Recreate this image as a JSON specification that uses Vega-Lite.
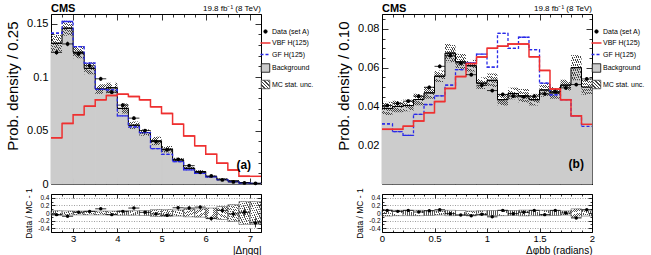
{
  "$schema": "https://vega.github.io/schema/vega-lite/v6.json",
  "background": "white",
  "padding": {"left": 5, "top": 2, "right": 0, "bottom": 0},
  "config": {
    "font": "Liberation Sans",
    "view": {"stroke": "black", "strokeWidth": 1},
    "axis": {"domain": false, "grid": false, "tickColor": "black", "tickWidth": 0.8, "labelColor": "black", "titleColor": "black", "labelFont": "Liberation Sans", "titleFont": "Liberation Sans", "titleFontWeight": "normal", "labelOverlap": false, "labelFlush": false}
  },
  "datasets": {
    "left": [
      {"lo": 2.5, "hi": 2.75, "mid": 2.625, "bkg": 0.1316, "mc_lo": 0.1238, "mc_hi": 0.1394, "vbf": 0.0432, "gf": 0.141, "data": 0.1231, "derr": 0.0022, "ratio": -0.043, "rerr": 0.02, "rb_lo": -0.06, "rb_hi": 0.06},
      {"lo": 2.75, "hi": 3.0, "mid": 2.875, "bkg": 0.1457, "mc_lo": 0.1387, "mc_hi": 0.1527, "vbf": 0.0567, "gf": 0.152, "data": 0.131, "derr": 0.0022, "ratio": -0.086, "rerr": 0.02, "rb_lo": -0.055, "rb_hi": 0.055},
      {"lo": 3.0, "hi": 3.25, "mid": 3.125, "bkg": 0.1232, "mc_lo": 0.1176, "mc_hi": 0.1288, "vbf": 0.0648, "gf": 0.1285, "data": 0.1219, "derr": 0.0021, "ratio": 0.017, "rerr": 0.02, "rb_lo": -0.05, "rb_hi": 0.05},
      {"lo": 3.25, "hi": 3.5, "mid": 3.375, "bkg": 0.1082, "mc_lo": 0.1026, "mc_hi": 0.1138, "vbf": 0.0728, "gf": 0.113, "data": 0.1106, "derr": 0.002, "ratio": 0.043, "rerr": 0.02, "rb_lo": -0.05, "rb_hi": 0.05},
      {"lo": 3.5, "hi": 3.75, "mid": 3.625, "bkg": 0.0888, "mc_lo": 0.0843, "mc_hi": 0.0933, "vbf": 0.0787, "gf": 0.0885, "data": 0.0984, "derr": 0.0019, "ratio": 0.11, "rerr": 0.025, "rb_lo": -0.05, "rb_hi": 0.05},
      {"lo": 3.75, "hi": 4.0, "mid": 3.875, "bkg": 0.09, "mc_lo": 0.0853, "mc_hi": 0.0947, "vbf": 0.0828, "gf": 0.088, "data": 0.0859, "derr": 0.0018, "ratio": -0.043, "rerr": 0.025, "rb_lo": -0.05, "rb_hi": 0.05},
      {"lo": 4.0, "hi": 4.25, "mid": 4.125, "bkg": 0.0707, "mc_lo": 0.066, "mc_hi": 0.0754, "vbf": 0.084, "gf": 0.0638, "data": 0.0738, "derr": 0.0017, "ratio": 0.043, "rerr": 0.025, "rb_lo": -0.06, "rb_hi": 0.06},
      {"lo": 4.25, "hi": 4.5, "mid": 4.375, "bkg": 0.055, "mc_lo": 0.0515, "mc_hi": 0.0585, "vbf": 0.0818, "gf": 0.0535, "data": 0.0616, "derr": 0.0016, "ratio": 0.13, "rerr": 0.03, "rb_lo": -0.06, "rb_hi": 0.06},
      {"lo": 4.5, "hi": 4.75, "mid": 4.625, "bkg": 0.0481, "mc_lo": 0.0451, "mc_hi": 0.0511, "vbf": 0.0787, "gf": 0.048, "data": 0.05, "derr": 0.0015, "ratio": 0.017, "rerr": 0.03, "rb_lo": -0.065, "rb_hi": 0.065},
      {"lo": 4.75, "hi": 5.0, "mid": 4.875, "bkg": 0.0403, "mc_lo": 0.0363, "mc_hi": 0.0443, "vbf": 0.0722, "gf": 0.033, "data": 0.0397, "derr": 0.0013, "ratio": -0.026, "rerr": 0.035, "rb_lo": -0.09, "rb_hi": 0.09},
      {"lo": 5.0, "hi": 5.25, "mid": 5.125, "bkg": 0.0325, "mc_lo": 0.0295, "mc_hi": 0.0355, "vbf": 0.066, "gf": 0.0278, "data": 0.0319, "derr": 0.0012, "ratio": -0.06, "rerr": 0.04, "rb_lo": -0.09, "rb_hi": 0.09},
      {"lo": 5.25, "hi": 5.5, "mid": 5.375, "bkg": 0.0225, "mc_lo": 0.0205, "mc_hi": 0.0245, "vbf": 0.056, "gf": 0.0209, "data": 0.0231, "derr": 0.001, "ratio": 0.138, "rerr": 0.045, "rb_lo": -0.08, "rb_hi": 0.08},
      {"lo": 5.5, "hi": 5.75, "mid": 5.625, "bkg": 0.0147, "mc_lo": 0.0132, "mc_hi": 0.0162, "vbf": 0.045, "gf": 0.0132, "data": 0.0172, "derr": 0.0009, "ratio": 0.13, "rerr": 0.05, "rb_lo": -0.1, "rb_hi": 0.1},
      {"lo": 5.75, "hi": 6.0, "mid": 5.875, "bkg": 0.0116, "mc_lo": 0.0103, "mc_hi": 0.0129, "vbf": 0.0358, "gf": 0.01, "data": 0.0109, "derr": 0.0008, "ratio": 0.155, "rerr": 0.055, "rb_lo": -0.11, "rb_hi": 0.11},
      {"lo": 6.0, "hi": 6.25, "mid": 6.125, "bkg": 0.0069, "mc_lo": 0.0059, "mc_hi": 0.0079, "vbf": 0.0278, "gf": 0.0066, "data": 0.0075, "derr": 0.0006, "ratio": -0.147, "rerr": 0.06, "rb_lo": -0.13, "rb_hi": 0.13},
      {"lo": 6.25, "hi": 6.5, "mid": 6.375, "bkg": 0.0044, "mc_lo": 0.0036, "mc_hi": 0.0052, "vbf": 0.0195, "gf": 0.004, "data": 0.0038, "derr": 0.0005, "ratio": 0.069, "rerr": 0.07, "rb_lo": -0.17, "rb_hi": 0.17},
      {"lo": 6.5, "hi": 6.75, "mid": 6.625, "bkg": 0.0028, "mc_lo": 0.0022, "mc_hi": 0.0034, "vbf": 0.0131, "gf": 0.0023, "data": 0.0019, "derr": 0.0004, "ratio": -0.026, "rerr": 0.08, "rb_lo": -0.22, "rb_hi": 0.22},
      {"lo": 6.75, "hi": 7.0, "mid": 6.875, "bkg": 0.0013, "mc_lo": 0.0009, "mc_hi": 0.0017, "vbf": 0.0072, "gf": 0.0008, "data": 0.001, "derr": 0.0003, "ratio": 0.017, "rerr": 0.1, "rb_lo": -0.3, "rb_hi": 0.3},
      {"lo": 7.0, "hi": 7.25, "mid": 7.125, "bkg": 0.0006, "mc_lo": 0.0003, "mc_hi": 0.0009, "vbf": 0.0072, "gf": 0.0006, "data": 0.0006, "derr": 0.0002, "ratio": -0.26, "rerr": 0.12, "rb_lo": -0.3, "rb_hi": 0.3}
    ],
    "right": [
      {"lo": 0.0, "hi": 0.1, "mid": 0.05, "bkg": 0.039, "mc_lo": 0.0356, "mc_hi": 0.0424, "vbf": 0.0282, "gf": 0.031, "data": 0.0405, "derr": 0.0009, "ratio": 0.069, "rerr": 0.022, "rb_lo": -0.08, "rb_hi": 0.08},
      {"lo": 0.1, "hi": 0.2, "mid": 0.15, "bkg": 0.04, "mc_lo": 0.037, "mc_hi": 0.043, "vbf": 0.0282, "gf": 0.027, "data": 0.0416, "derr": 0.0009, "ratio": 0.043, "rerr": 0.022, "rb_lo": -0.07, "rb_hi": 0.07},
      {"lo": 0.2, "hi": 0.3, "mid": 0.25, "bkg": 0.0405, "mc_lo": 0.0375, "mc_hi": 0.0435, "vbf": 0.0298, "gf": 0.0251, "data": 0.0427, "derr": 0.0009, "ratio": 0.069, "rerr": 0.022, "rb_lo": -0.07, "rb_hi": 0.07},
      {"lo": 0.3, "hi": 0.4, "mid": 0.35, "bkg": 0.0436, "mc_lo": 0.0406, "mc_hi": 0.0466, "vbf": 0.0325, "gf": 0.0359, "data": 0.0453, "derr": 0.0009, "ratio": 0.026, "rerr": 0.022, "rb_lo": -0.07, "rb_hi": 0.07},
      {"lo": 0.4, "hi": 0.5, "mid": 0.45, "bkg": 0.047, "mc_lo": 0.044, "mc_hi": 0.05, "vbf": 0.0368, "gf": 0.041, "data": 0.0499, "derr": 0.0009, "ratio": 0.06, "rerr": 0.022, "rb_lo": -0.065, "rb_hi": 0.065},
      {"lo": 0.5, "hi": 0.6, "mid": 0.55, "bkg": 0.0556, "mc_lo": 0.0526, "mc_hi": 0.0586, "vbf": 0.0425, "gf": 0.0455, "data": 0.0607, "derr": 0.001, "ratio": 0.086, "rerr": 0.022, "rb_lo": -0.055, "rb_hi": 0.055},
      {"lo": 0.6, "hi": 0.7, "mid": 0.65, "bkg": 0.0675, "mc_lo": 0.0628, "mc_hi": 0.0722, "vbf": 0.0493, "gf": 0.051, "data": 0.0662, "derr": 0.001, "ratio": -0.017, "rerr": 0.022, "rb_lo": -0.07, "rb_hi": 0.07},
      {"lo": 0.7, "hi": 0.8, "mid": 0.75, "bkg": 0.063, "mc_lo": 0.0588, "mc_hi": 0.0672, "vbf": 0.0554, "gf": 0.059, "data": 0.0624, "derr": 0.001, "ratio": -0.05, "rerr": 0.022, "rb_lo": -0.065, "rb_hi": 0.065},
      {"lo": 0.8, "hi": 0.9, "mid": 0.85, "bkg": 0.061, "mc_lo": 0.058, "mc_hi": 0.064, "vbf": 0.0621, "gf": 0.0625, "data": 0.0564, "derr": 0.001, "ratio": -0.07, "rerr": 0.022, "rb_lo": -0.05, "rb_hi": 0.05},
      {"lo": 0.9, "hi": 1.0, "mid": 0.95, "bkg": 0.052, "mc_lo": 0.049, "mc_hi": 0.055, "vbf": 0.0655, "gf": 0.067, "data": 0.0509, "derr": 0.0009, "ratio": -0.035, "rerr": 0.022, "rb_lo": -0.06, "rb_hi": 0.06},
      {"lo": 1.0, "hi": 1.1, "mid": 1.05, "bkg": 0.0535, "mc_lo": 0.05, "mc_hi": 0.057, "vbf": 0.07, "gf": 0.0603, "data": 0.0482, "derr": 0.0009, "ratio": -0.1, "rerr": 0.022, "rb_lo": -0.065, "rb_hi": 0.065},
      {"lo": 1.1, "hi": 1.2, "mid": 1.15, "bkg": 0.0435, "mc_lo": 0.0405, "mc_hi": 0.0465, "vbf": 0.0711, "gf": 0.0777, "data": 0.0462, "derr": 0.0009, "ratio": 0.069, "rerr": 0.022, "rb_lo": -0.07, "rb_hi": 0.07},
      {"lo": 1.2, "hi": 1.3, "mid": 1.25, "bkg": 0.0467, "mc_lo": 0.0437, "mc_hi": 0.0497, "vbf": 0.0722, "gf": 0.07, "data": 0.0453, "derr": 0.0009, "ratio": -0.017, "rerr": 0.022, "rb_lo": -0.065, "rb_hi": 0.065},
      {"lo": 1.3, "hi": 1.4, "mid": 1.35, "bkg": 0.0455, "mc_lo": 0.042, "mc_hi": 0.049, "vbf": 0.0722, "gf": 0.0757, "data": 0.045, "derr": 0.0009, "ratio": 0.017, "rerr": 0.022, "rb_lo": -0.075, "rb_hi": 0.075},
      {"lo": 1.4, "hi": 1.5, "mid": 1.45, "bkg": 0.0435, "mc_lo": 0.0405, "mc_hi": 0.0465, "vbf": 0.0656, "gf": 0.0693, "data": 0.0453, "derr": 0.0009, "ratio": 0.069, "rerr": 0.022, "rb_lo": -0.07, "rb_hi": 0.07},
      {"lo": 1.5, "hi": 1.6, "mid": 1.55, "bkg": 0.0485, "mc_lo": 0.045, "mc_hi": 0.052, "vbf": 0.0586, "gf": 0.052, "data": 0.0465, "derr": 0.0009, "ratio": -0.043, "rerr": 0.022, "rb_lo": -0.07, "rb_hi": 0.07},
      {"lo": 1.6, "hi": 1.7, "mid": 1.65, "bkg": 0.047, "mc_lo": 0.044, "mc_hi": 0.05, "vbf": 0.049, "gf": 0.046, "data": 0.0477, "derr": 0.0009, "ratio": 0.069, "rerr": 0.022, "rb_lo": -0.065, "rb_hi": 0.065},
      {"lo": 1.7, "hi": 1.8, "mid": 1.75, "bkg": 0.051, "mc_lo": 0.0482, "mc_hi": 0.0538, "vbf": 0.0435, "gf": 0.0435, "data": 0.0496, "derr": 0.0009, "ratio": 0.0, "rerr": 0.022, "rb_lo": -0.055, "rb_hi": 0.055},
      {"lo": 1.8, "hi": 1.9, "mid": 1.85, "bkg": 0.06, "mc_lo": 0.0535, "mc_hi": 0.0665, "vbf": 0.0352, "gf": 0.0352, "data": 0.0513, "derr": 0.0009, "ratio": -0.13, "rerr": 0.022, "rb_lo": -0.11, "rb_hi": 0.11},
      {"lo": 1.9, "hi": 2.0, "mid": 1.95, "bkg": 0.05, "mc_lo": 0.046, "mc_hi": 0.054, "vbf": 0.0308, "gf": 0.0297, "data": 0.0542, "derr": 0.0009, "ratio": 0.086, "rerr": 0.022, "rb_lo": -0.08, "rb_hi": 0.08}
    ]
  },
  "spacing": 21,
  "resolve": {"scale": {"x": "independent", "y": "independent", "stroke": "independent"}, "legend": {"stroke": "independent"}},
  "hconcat": [
    {
      "spacing": -3,
      "resolve": {"scale": {"x": "independent", "y": "independent", "stroke": "independent"}, "legend": {"stroke": "independent"}},
      "vconcat": [
        {
          "width": 210,
          "height": 170,
          "data": {"name": "left"},
          "resolve": {"axis": {"x": "independent", "y": "independent"}},
          "layer": [
            {
              "mark": {"type": "rect", "fill": "#cccccc", "stroke": "#cccccc", "strokeWidth": 1},
              "encoding": {
                "x": {"field": "lo", "type": "quantitative", "scale": {"domain": [2.5, 7.25], "nice": false, "zero": false},
                  "axis": {"orient": "bottom", "values": [2.5, 2.75, 3, 3.25, 3.5, 3.75, 4, 4.25, 4.5, 4.75, 5, 5.25, 5.5, 5.75, 6, 6.25, 6.5, 6.75, 7, 7.25], "labels": false, "title": null,
                    "tickSize": {"condition": {"test": "datum.value % 1 == 0", "value": -6}, "value": -3}}},
                "x2": {"field": "hi"},
                "y": {"field": "bkg", "type": "quantitative", "scale": {"domain": [0, 0.159], "nice": false},
                  "axis": {"orient": "left", "values": [0, 0.01, 0.02, 0.03, 0.04, 0.05, 0.06, 0.07, 0.08, 0.09, 0.1, 0.11, 0.12, 0.13, 0.14, 0.15],
                    "labelExpr": "abs(datum.value*20 - round(datum.value*20)) < 1e-6 ? format(datum.value, '~g') : ''",
                    "labelFontSize": 11, "labelPadding": 9,
                    "tickSize": {"condition": {"test": "abs(datum.value*20 - round(datum.value*20)) < 1e-6", "value": -6}, "value": -3},
                    "title": "Prob. density / 0.25", "titleFontSize": 15, "titleAnchor": "end", "titleY": 7, "titlePadding": 6}},
                "y2": {"datum": 0}
              }
            },
            {
              "mark": {"type": "rect", "fill": {"gradient": "linear", "x1": 0, "y1": 1, "x2": 1, "y2": 0, "stops": [{"offset": 0, "color": "#444"}, {"offset": 0.035, "color": "#444"}, {"offset": 0.035, "color": "rgba(0,0,0,0)"}, {"offset": 0.1, "color": "rgba(0,0,0,0)"}, {"offset": 0.1, "color": "#444"}, {"offset": 0.135, "color": "#444"}, {"offset": 0.135, "color": "rgba(0,0,0,0)"}, {"offset": 0.2, "color": "rgba(0,0,0,0)"}, {"offset": 0.2, "color": "#444"}, {"offset": 0.235, "color": "#444"}, {"offset": 0.235, "color": "rgba(0,0,0,0)"}, {"offset": 0.3, "color": "rgba(0,0,0,0)"}, {"offset": 0.3, "color": "#444"}, {"offset": 0.335, "color": "#444"}, {"offset": 0.335, "color": "rgba(0,0,0,0)"}, {"offset": 0.4, "color": "rgba(0,0,0,0)"}, {"offset": 0.4, "color": "#444"}, {"offset": 0.435, "color": "#444"}, {"offset": 0.435, "color": "rgba(0,0,0,0)"}, {"offset": 0.5, "color": "rgba(0,0,0,0)"}, {"offset": 0.5, "color": "#444"}, {"offset": 0.535, "color": "#444"}, {"offset": 0.535, "color": "rgba(0,0,0,0)"}, {"offset": 0.6, "color": "rgba(0,0,0,0)"}, {"offset": 0.6, "color": "#444"}, {"offset": 0.635, "color": "#444"}, {"offset": 0.635, "color": "rgba(0,0,0,0)"}, {"offset": 0.7, "color": "rgba(0,0,0,0)"}, {"offset": 0.7, "color": "#444"}, {"offset": 0.735, "color": "#444"}, {"offset": 0.735, "color": "rgba(0,0,0,0)"}, {"offset": 0.8, "color": "rgba(0,0,0,0)"}, {"offset": 0.8, "color": "#444"}, {"offset": 0.835, "color": "#444"}, {"offset": 0.835, "color": "rgba(0,0,0,0)"}, {"offset": 0.9, "color": "rgba(0,0,0,0)"}, {"offset": 0.9, "color": "#444"}, {"offset": 0.935, "color": "#444"}, {"offset": 0.935, "color": "rgba(0,0,0,0)"}, {"offset": 1, "color": "rgba(0,0,0,0)"}]}},
              "encoding": {
                "x": {"field": "lo", "type": "quantitative", "axis": null},
                "x2": {"field": "hi"},
                "y": {"field": "mc_lo", "type": "quantitative", "axis": null},
                "y2": {"field": "mc_hi"}
              }
            },
            {
              "mark": {"type": "line", "interpolate": "step-after", "color": "black", "strokeWidth": 1},
              "encoding": {
                "x": {"field": "lo", "type": "quantitative",
                  "axis": {"orient": "top", "values": [2.5, 2.75, 3, 3.25, 3.5, 3.75, 4, 4.25, 4.5, 4.75, 5, 5.25, 5.5, 5.75, 6, 6.25, 6.5, 6.75, 7, 7.25], "labels": false, "title": null,
                    "tickSize": {"condition": {"test": "datum.value % 1 == 0", "value": -6}, "value": -3}}},
                "y": {"field": "bkg", "type": "quantitative",
                  "axis": {"orient": "right", "values": [0, 0.01, 0.02, 0.03, 0.04, 0.05, 0.06, 0.07, 0.08, 0.09, 0.1, 0.11, 0.12, 0.13, 0.14, 0.15], "labels": false, "title": null,
                    "tickSize": {"condition": {"test": "abs(datum.value*20 - round(datum.value*20)) < 1e-6", "value": -6}, "value": -3}}}
              }
            },
            {
              "mark": {"type": "rule", "color": "black", "strokeWidth": 1},
              "encoding": {"x": {"field": "lo", "type": "quantitative", "axis": null}, "x2": {"field": "hi"}, "y": {"field": "bkg", "type": "quantitative", "axis": null}}
            },
            {
              "mark": {"type": "line", "interpolate": "step-after", "color": "#2a2ae8", "strokeWidth": 1.3, "strokeDash": [3, 2]},
              "encoding": {"x": {"field": "lo", "type": "quantitative", "axis": null}, "y": {"field": "gf", "type": "quantitative", "axis": null}}
            },
            {
              "mark": {"type": "rule", "color": "#2a2ae8", "strokeWidth": 1.3, "strokeDash": [3, 2]},
              "encoding": {"x": {"field": "lo", "type": "quantitative", "axis": null}, "x2": {"field": "hi"}, "y": {"field": "gf", "type": "quantitative", "axis": null}}
            },
            {
              "mark": {"type": "line", "interpolate": "step-after", "strokeWidth": 1.5},
              "encoding": {
                "x": {"field": "lo", "type": "quantitative", "axis": null},
                "y": {"field": "vbf", "type": "quantitative", "axis": null},
                "stroke": {"datum": "VBF H(125)", "type": "nominal",
                  "scale": {"domain": ["Data (set A)", "VBF H(125)", "GF H(125)", "Background", "MC stat. unc."], "range": ["black", "#ee3030", "#2a2ae8", "black", "#444444"]},
                  "legend": {"orient": "none", "legendX": 211, "legendY": 14, "title": null, "padding": 0, "rowPadding": 3.5, "labelFontSize": 7, "labelFont": "Liberation Sans", "labelColor": "black", "labelOffset": 3, "symbolType": "stroke",
                    "encode": {"symbols": {"update": {
                      "shape": {"signal": "datum.value === 'Data (set A)' ? 'circle' : (datum.value === 'VBF H(125)' || datum.value === 'GF H(125)' ? 'stroke' : 'square')"},
                      "size": {"signal": "datum.value === 'Data (set A)' ? 12 : (datum.value === 'VBF H(125)' || datum.value === 'GF H(125)' ? 100 : 72)"},
                      "fill": {"signal": "datum.value === 'Data (set A)' ? 'black' : (datum.value === 'Background' ? '#cccccc' : (datum.value === 'MC stat. unc.' ? {gradient: 'linear', x1: 0, y1: 1, x2: 1, y2: 0, stops: [{offset: 0, color: '#444'}, {offset: 0.08, color: '#444'}, {offset: 0.08, color: 'white'}, {offset: 0.2, color: 'white'}, {offset: 0.2, color: '#444'}, {offset: 0.28, color: '#444'}, {offset: 0.28, color: 'white'}, {offset: 0.4, color: 'white'}, {offset: 0.4, color: '#444'}, {offset: 0.48, color: '#444'}, {offset: 0.48, color: 'white'}, {offset: 0.6, color: 'white'}, {offset: 0.6, color: '#444'}, {offset: 0.68, color: '#444'}, {offset: 0.68, color: 'white'}, {offset: 0.8, color: 'white'}, {offset: 0.8, color: '#444'}, {offset: 0.88, color: '#444'}, {offset: 0.88, color: 'white'}, {offset: 1, color: 'white'}]} : 'transparent'))"},
                      "strokeDash": {"signal": "datum.value === 'GF H(125)' ? [3, 2] : []"},
                      "strokeWidth": {"signal": "datum.value === 'VBF H(125)' || datum.value === 'GF H(125)' ? 1.5 : 0.8"},
                      "opacity": {"value": 1}
                    }}}}
                }
              }
            },
            {
              "mark": {"type": "rule", "color": "#ee3030", "strokeWidth": 1.5},
              "encoding": {"x": {"field": "lo", "type": "quantitative", "axis": null}, "x2": {"field": "hi"}, "y": {"field": "vbf", "type": "quantitative", "axis": null}}
            },
            {
              "mark": {"type": "rule", "color": "black", "strokeWidth": 0.8},
              "encoding": {"x": {"field": "lo", "type": "quantitative", "axis": null}, "x2": {"field": "hi"}, "y": {"field": "data", "type": "quantitative", "axis": null}}
            },
            {
              "mark": {"type": "errorbar", "color": "black", "thickness": 0.8},
              "encoding": {"x": {"field": "mid", "type": "quantitative", "axis": null}, "y": {"field": "data", "type": "quantitative", "axis": null}, "yError": {"field": "derr"}}
            },
            {
              "mark": {"type": "point", "filled": true, "color": "black", "size": 14, "opacity": 1},
              "encoding": {"x": {"field": "mid", "type": "quantitative", "axis": null}, "y": {"field": "data", "type": "quantitative", "axis": null}}
            },
            {
              "data": {"values": [{"t": "CMS"}]},
              "mark": {"type": "text", "align": "left", "baseline": "alphabetic", "fontWeight": "bold", "fontSize": 11, "dy": -2, "color": "black"},
              "encoding": {"x": {"datum": 2.5, "type": "quantitative", "axis": null}, "y": {"datum": 0.159, "type": "quantitative", "axis": null}, "text": {"field": "t"}}
            },
            {
              "data": {"values": [{"t": "19.8 fb⁻¹ (8 TeV)"}]},
              "mark": {"type": "text", "align": "right", "baseline": "alphabetic", "fontSize": 8, "dy": -3, "color": "black"},
              "encoding": {"x": {"datum": 7.25, "type": "quantitative", "axis": null}, "y": {"datum": 0.159, "type": "quantitative", "axis": null}, "text": {"field": "t"}}
            },
            {
              "data": {"values": [{"t": "(a)"}]},
              "mark": {"type": "text", "align": "center", "baseline": "middle", "fontWeight": "bold", "fontSize": 12, "color": "black"},
              "encoding": {"x": {"datum": 6.86, "type": "quantitative", "axis": null}, "y": {"datum": 0.018, "type": "quantitative", "axis": null}, "text": {"field": "t"}}
            }
          ]
        },
        {
          "width": 210,
          "height": 38,
          "data": {"name": "left"},
          "resolve": {"axis": {"x": "independent", "y": "independent"}},
          "layer": [
            {
              "mark": {"type": "rect", "stroke": "#444444", "strokeWidth": 0.5, "fill": {"gradient": "linear", "x1": 0, "y1": 1, "x2": 1, "y2": 0, "stops": [{"offset": 0, "color": "#555"}, {"offset": 0.03, "color": "#555"}, {"offset": 0.03, "color": "rgba(0,0,0,0)"}, {"offset": 0.1, "color": "rgba(0,0,0,0)"}, {"offset": 0.1, "color": "#555"}, {"offset": 0.13, "color": "#555"}, {"offset": 0.13, "color": "rgba(0,0,0,0)"}, {"offset": 0.2, "color": "rgba(0,0,0,0)"}, {"offset": 0.2, "color": "#555"}, {"offset": 0.23, "color": "#555"}, {"offset": 0.23, "color": "rgba(0,0,0,0)"}, {"offset": 0.3, "color": "rgba(0,0,0,0)"}, {"offset": 0.3, "color": "#555"}, {"offset": 0.33, "color": "#555"}, {"offset": 0.33, "color": "rgba(0,0,0,0)"}, {"offset": 0.4, "color": "rgba(0,0,0,0)"}, {"offset": 0.4, "color": "#555"}, {"offset": 0.43, "color": "#555"}, {"offset": 0.43, "color": "rgba(0,0,0,0)"}, {"offset": 0.5, "color": "rgba(0,0,0,0)"}, {"offset": 0.5, "color": "#555"}, {"offset": 0.53, "color": "#555"}, {"offset": 0.53, "color": "rgba(0,0,0,0)"}, {"offset": 0.6, "color": "rgba(0,0,0,0)"}, {"offset": 0.6, "color": "#555"}, {"offset": 0.63, "color": "#555"}, {"offset": 0.63, "color": "rgba(0,0,0,0)"}, {"offset": 0.7, "color": "rgba(0,0,0,0)"}, {"offset": 0.7, "color": "#555"}, {"offset": 0.73, "color": "#555"}, {"offset": 0.73, "color": "rgba(0,0,0,0)"}, {"offset": 0.8, "color": "rgba(0,0,0,0)"}, {"offset": 0.8, "color": "#555"}, {"offset": 0.83, "color": "#555"}, {"offset": 0.83, "color": "rgba(0,0,0,0)"}, {"offset": 0.9, "color": "rgba(0,0,0,0)"}, {"offset": 0.9, "color": "#555"}, {"offset": 0.93, "color": "#555"}, {"offset": 0.93, "color": "rgba(0,0,0,0)"}, {"offset": 1, "color": "rgba(0,0,0,0)"}]}},
              "encoding": {
                "x": {"field": "lo", "type": "quantitative", "scale": {"domain": [2.5, 7.25], "nice": false, "zero": false},
                  "axis": {"orient": "bottom", "values": [2.5, 2.75, 3, 3.25, 3.5, 3.75, 4, 4.25, 4.5, 4.75, 5, 5.25, 5.5, 5.75, 6, 6.25, 6.5, 6.75, 7, 7.25],
                    "labelExpr": "datum.value % 1 == 0 ? format(datum.value, 'd') : ''", "labelFontSize": 9.5, "labelPadding": 5,
                    "tickSize": {"condition": {"test": "datum.value % 1 == 0", "value": -4}, "value": -2},
                    "title": "|Δηqq|", "titleFontSize": 10, "titleAnchor": "end", "titlePadding": 1}},
                "x2": {"field": "hi"},
                "y": {"field": "rb_lo", "type": "quantitative", "scale": {"domain": [-0.5, 0.5], "nice": false},
                  "axis": {"orient": "left", "values": [-0.5, -0.4, -0.3, -0.2, -0.1, 0, 0.1, 0.2, 0.3, 0.4, 0.5],
                    "labelExpr": "abs(datum.value*5 - round(datum.value*5)) < 1e-6 && abs(datum.value) < 0.45 ? replace(format(datum.value, '.1~f'), '−', '-') : ''",
                    "labelFontSize": 6.5, "labelPadding": 6,
                    "tickSize": {"condition": {"test": "abs(datum.value*5 - round(datum.value*5)) < 1e-6", "value": -4}, "value": -2},
                    "grid": true, "gridDash": [1, 1.5], "gridColor": "#777777", "gridWidth": 0.7,
                    "gridOpacity": {"condition": {"test": "abs(datum.value*5 - round(datum.value*5)) < 1e-6 && abs(datum.value) > 0.1 && abs(datum.value) < 0.45", "value": 1}, "value": 0},
                    "title": "Data / MC - 1", "titleFontSize": 8.5, "titlePadding": 4}},
                "y2": {"field": "rb_hi"}
              }
            },
            {
              "mark": {"type": "rule", "color": "black", "strokeWidth": 0.8},
              "encoding": {
                "x": {"field": "lo", "type": "quantitative",
                  "axis": {"orient": "top", "values": [2.5, 2.75, 3, 3.25, 3.5, 3.75, 4, 4.25, 4.5, 4.75, 5, 5.25, 5.5, 5.75, 6, 6.25, 6.5, 6.75, 7, 7.25], "labels": false, "title": null,
                    "tickSize": {"condition": {"test": "datum.value % 1 == 0", "value": -4}, "value": -2}}},
                "x2": {"field": "hi"},
                "y": {"field": "ratio", "type": "quantitative",
                  "axis": {"orient": "right", "values": [-0.5, -0.4, -0.3, -0.2, -0.1, 0, 0.1, 0.2, 0.3, 0.4, 0.5], "labels": false, "title": null,
                    "tickSize": {"condition": {"test": "abs(datum.value*5 - round(datum.value*5)) < 1e-6", "value": -4}, "value": -2}}}
              }
            },
            {
              "mark": {"type": "errorbar", "color": "black", "thickness": 0.8},
              "encoding": {"x": {"field": "mid", "type": "quantitative", "axis": null}, "y": {"field": "ratio", "type": "quantitative", "axis": null}, "yError": {"field": "rerr"}}
            },
            {
              "mark": {"type": "point", "filled": true, "color": "black", "size": 12, "opacity": 1},
              "encoding": {"x": {"field": "mid", "type": "quantitative", "axis": null}, "y": {"field": "ratio", "type": "quantitative", "axis": null}}
            }
          ]
        }
      ]
    },
    {
      "spacing": -3,
      "resolve": {"scale": {"x": "independent", "y": "independent", "stroke": "independent"}, "legend": {"stroke": "independent"}},
      "vconcat": [
        {
          "width": 210,
          "height": 170,
          "data": {"name": "right"},
          "resolve": {"axis": {"x": "independent", "y": "independent"}},
          "layer": [
            {
              "mark": {"type": "rect", "fill": "#cccccc", "stroke": "#cccccc", "strokeWidth": 1},
              "encoding": {
                "x": {"field": "lo", "type": "quantitative", "scale": {"domain": [0, 2], "nice": false, "zero": false},
                  "axis": {"orient": "bottom", "values": [0, 0.1, 0.2, 0.3, 0.4, 0.5, 0.6, 0.7, 0.8, 0.9, 1, 1.1, 1.2, 1.3, 1.4, 1.5, 1.6, 1.7, 1.8, 1.9, 2], "labels": false, "title": null,
                    "tickSize": {"condition": {"test": "abs(datum.value*2 - round(datum.value*2)) < 1e-6", "value": -6}, "value": -3}}},
                "x2": {"field": "hi"},
                "y": {"field": "bkg", "type": "quantitative", "scale": {"domain": [0, 0.0877], "nice": false},
                  "axis": {"orient": "left", "values": [0, 0.005, 0.01, 0.015, 0.02, 0.025, 0.03, 0.035, 0.04, 0.045, 0.05, 0.055, 0.06, 0.065, 0.07, 0.075, 0.08, 0.085],
                    "labelExpr": "datum.value > 0.001 && abs(datum.value*50 - round(datum.value*50)) < 1e-6 ? format(datum.value, '.2f') : ''",
                    "labelFontSize": 11, "labelPadding": 9,
                    "tickSize": {"condition": {"test": "abs(datum.value*50 - round(datum.value*50)) < 1e-6", "value": -6}, "value": -3},
                    "title": "Prob. density / 0.10", "titleFontSize": 15, "titleAnchor": "end", "titleY": 7, "titlePadding": 6}},
                "y2": {"datum": 0}
              }
            },
            {
              "mark": {"type": "rect", "fill": {"gradient": "linear", "x1": 0, "y1": 1, "x2": 1, "y2": 0, "stops": [{"offset": 0, "color": "#444"}, {"offset": 0.035, "color": "#444"}, {"offset": 0.035, "color": "rgba(0,0,0,0)"}, {"offset": 0.1, "color": "rgba(0,0,0,0)"}, {"offset": 0.1, "color": "#444"}, {"offset": 0.135, "color": "#444"}, {"offset": 0.135, "color": "rgba(0,0,0,0)"}, {"offset": 0.2, "color": "rgba(0,0,0,0)"}, {"offset": 0.2, "color": "#444"}, {"offset": 0.235, "color": "#444"}, {"offset": 0.235, "color": "rgba(0,0,0,0)"}, {"offset": 0.3, "color": "rgba(0,0,0,0)"}, {"offset": 0.3, "color": "#444"}, {"offset": 0.335, "color": "#444"}, {"offset": 0.335, "color": "rgba(0,0,0,0)"}, {"offset": 0.4, "color": "rgba(0,0,0,0)"}, {"offset": 0.4, "color": "#444"}, {"offset": 0.435, "color": "#444"}, {"offset": 0.435, "color": "rgba(0,0,0,0)"}, {"offset": 0.5, "color": "rgba(0,0,0,0)"}, {"offset": 0.5, "color": "#444"}, {"offset": 0.535, "color": "#444"}, {"offset": 0.535, "color": "rgba(0,0,0,0)"}, {"offset": 0.6, "color": "rgba(0,0,0,0)"}, {"offset": 0.6, "color": "#444"}, {"offset": 0.635, "color": "#444"}, {"offset": 0.635, "color": "rgba(0,0,0,0)"}, {"offset": 0.7, "color": "rgba(0,0,0,0)"}, {"offset": 0.7, "color": "#444"}, {"offset": 0.735, "color": "#444"}, {"offset": 0.735, "color": "rgba(0,0,0,0)"}, {"offset": 0.8, "color": "rgba(0,0,0,0)"}, {"offset": 0.8, "color": "#444"}, {"offset": 0.835, "color": "#444"}, {"offset": 0.835, "color": "rgba(0,0,0,0)"}, {"offset": 0.9, "color": "rgba(0,0,0,0)"}, {"offset": 0.9, "color": "#444"}, {"offset": 0.935, "color": "#444"}, {"offset": 0.935, "color": "rgba(0,0,0,0)"}, {"offset": 1, "color": "rgba(0,0,0,0)"}]}},
              "encoding": {
                "x": {"field": "lo", "type": "quantitative", "axis": null},
                "x2": {"field": "hi"},
                "y": {"field": "mc_lo", "type": "quantitative", "axis": null},
                "y2": {"field": "mc_hi"}
              }
            },
            {
              "mark": {"type": "line", "interpolate": "step-after", "color": "black", "strokeWidth": 1},
              "encoding": {
                "x": {"field": "lo", "type": "quantitative",
                  "axis": {"orient": "top", "values": [0, 0.1, 0.2, 0.3, 0.4, 0.5, 0.6, 0.7, 0.8, 0.9, 1, 1.1, 1.2, 1.3, 1.4, 1.5, 1.6, 1.7, 1.8, 1.9, 2], "labels": false, "title": null,
                    "tickSize": {"condition": {"test": "abs(datum.value*2 - round(datum.value*2)) < 1e-6", "value": -6}, "value": -3}}},
                "y": {"field": "bkg", "type": "quantitative",
                  "axis": {"orient": "right", "values": [0, 0.005, 0.01, 0.015, 0.02, 0.025, 0.03, 0.035, 0.04, 0.045, 0.05, 0.055, 0.06, 0.065, 0.07, 0.075, 0.08, 0.085], "labels": false, "title": null,
                    "tickSize": {"condition": {"test": "abs(datum.value*50 - round(datum.value*50)) < 1e-6", "value": -6}, "value": -3}}}
              }
            },
            {
              "mark": {"type": "rule", "color": "black", "strokeWidth": 1},
              "encoding": {"x": {"field": "lo", "type": "quantitative", "axis": null}, "x2": {"field": "hi"}, "y": {"field": "bkg", "type": "quantitative", "axis": null}}
            },
            {
              "mark": {"type": "line", "interpolate": "step-after", "color": "#2a2ae8", "strokeWidth": 1.3, "strokeDash": [3, 2]},
              "encoding": {"x": {"field": "lo", "type": "quantitative", "axis": null}, "y": {"field": "gf", "type": "quantitative", "axis": null}}
            },
            {
              "mark": {"type": "rule", "color": "#2a2ae8", "strokeWidth": 1.3, "strokeDash": [3, 2]},
              "encoding": {"x": {"field": "lo", "type": "quantitative", "axis": null}, "x2": {"field": "hi"}, "y": {"field": "gf", "type": "quantitative", "axis": null}}
            },
            {
              "mark": {"type": "line", "interpolate": "step-after", "strokeWidth": 1.5},
              "encoding": {
                "x": {"field": "lo", "type": "quantitative", "axis": null},
                "y": {"field": "vbf", "type": "quantitative", "axis": null},
                "stroke": {"datum": "VBF H(125)", "type": "nominal",
                  "scale": {"domain": ["Data (set A)", "VBF H(125)", "GF H(125)", "Background", "MC stat. unc."], "range": ["black", "#ee3030", "#2a2ae8", "black", "#444444"]},
                  "legend": {"orient": "none", "legendX": 211, "legendY": 14, "title": null, "padding": 0, "rowPadding": 3.5, "labelFontSize": 7, "labelFont": "Liberation Sans", "labelColor": "black", "labelOffset": 3, "symbolType": "stroke",
                    "encode": {"symbols": {"update": {
                      "shape": {"signal": "datum.value === 'Data (set A)' ? 'circle' : (datum.value === 'VBF H(125)' || datum.value === 'GF H(125)' ? 'stroke' : 'square')"},
                      "size": {"signal": "datum.value === 'Data (set A)' ? 12 : (datum.value === 'VBF H(125)' || datum.value === 'GF H(125)' ? 100 : 72)"},
                      "fill": {"signal": "datum.value === 'Data (set A)' ? 'black' : (datum.value === 'Background' ? '#cccccc' : (datum.value === 'MC stat. unc.' ? {gradient: 'linear', x1: 0, y1: 1, x2: 1, y2: 0, stops: [{offset: 0, color: '#444'}, {offset: 0.08, color: '#444'}, {offset: 0.08, color: 'white'}, {offset: 0.2, color: 'white'}, {offset: 0.2, color: '#444'}, {offset: 0.28, color: '#444'}, {offset: 0.28, color: 'white'}, {offset: 0.4, color: 'white'}, {offset: 0.4, color: '#444'}, {offset: 0.48, color: '#444'}, {offset: 0.48, color: 'white'}, {offset: 0.6, color: 'white'}, {offset: 0.6, color: '#444'}, {offset: 0.68, color: '#444'}, {offset: 0.68, color: 'white'}, {offset: 0.8, color: 'white'}, {offset: 0.8, color: '#444'}, {offset: 0.88, color: '#444'}, {offset: 0.88, color: 'white'}, {offset: 1, color: 'white'}]} : 'transparent'))"},
                      "strokeDash": {"signal": "datum.value === 'GF H(125)' ? [3, 2] : []"},
                      "strokeWidth": {"signal": "datum.value === 'VBF H(125)' || datum.value === 'GF H(125)' ? 1.5 : 0.8"},
                      "opacity": {"value": 1}
                    }}}}
                }
              }
            },
            {
              "mark": {"type": "rule", "color": "#ee3030", "strokeWidth": 1.5},
              "encoding": {"x": {"field": "lo", "type": "quantitative", "axis": null}, "x2": {"field": "hi"}, "y": {"field": "vbf", "type": "quantitative", "axis": null}}
            },
            {
              "mark": {"type": "rule", "color": "black", "strokeWidth": 0.8},
              "encoding": {"x": {"field": "lo", "type": "quantitative", "axis": null}, "x2": {"field": "hi"}, "y": {"field": "data", "type": "quantitative", "axis": null}}
            },
            {
              "mark": {"type": "errorbar", "color": "black", "thickness": 0.8},
              "encoding": {"x": {"field": "mid", "type": "quantitative", "axis": null}, "y": {"field": "data", "type": "quantitative", "axis": null}, "yError": {"field": "derr"}}
            },
            {
              "mark": {"type": "point", "filled": true, "color": "black", "size": 14, "opacity": 1},
              "encoding": {"x": {"field": "mid", "type": "quantitative", "axis": null}, "y": {"field": "data", "type": "quantitative", "axis": null}}
            },
            {
              "data": {"values": [{"t": "CMS"}]},
              "mark": {"type": "text", "align": "left", "baseline": "alphabetic", "fontWeight": "bold", "fontSize": 11, "dy": -2, "color": "black"},
              "encoding": {"x": {"datum": 0, "type": "quantitative", "axis": null}, "y": {"datum": 0.0877, "type": "quantitative", "axis": null}, "text": {"field": "t"}}
            },
            {
              "data": {"values": [{"t": "19.8 fb⁻¹ (8 TeV)"}]},
              "mark": {"type": "text", "align": "right", "baseline": "alphabetic", "fontSize": 8, "dy": -3, "color": "black"},
              "encoding": {"x": {"datum": 2, "type": "quantitative", "axis": null}, "y": {"datum": 0.0877, "type": "quantitative", "axis": null}, "text": {"field": "t"}}
            },
            {
              "data": {"values": [{"t": "(b)"}]},
              "mark": {"type": "text", "align": "center", "baseline": "middle", "fontWeight": "bold", "fontSize": 12, "color": "black"},
              "encoding": {"x": {"datum": 1.85, "type": "quantitative", "axis": null}, "y": {"datum": 0.0103, "type": "quantitative", "axis": null}, "text": {"field": "t"}}
            }
          ]
        },
        {
          "width": 210,
          "height": 38,
          "data": {"name": "right"},
          "resolve": {"axis": {"x": "independent", "y": "independent"}},
          "layer": [
            {
              "mark": {"type": "rect", "stroke": "#444444", "strokeWidth": 0.5, "fill": {"gradient": "linear", "x1": 0, "y1": 1, "x2": 1, "y2": 0, "stops": [{"offset": 0, "color": "#555"}, {"offset": 0.03, "color": "#555"}, {"offset": 0.03, "color": "rgba(0,0,0,0)"}, {"offset": 0.1, "color": "rgba(0,0,0,0)"}, {"offset": 0.1, "color": "#555"}, {"offset": 0.13, "color": "#555"}, {"offset": 0.13, "color": "rgba(0,0,0,0)"}, {"offset": 0.2, "color": "rgba(0,0,0,0)"}, {"offset": 0.2, "color": "#555"}, {"offset": 0.23, "color": "#555"}, {"offset": 0.23, "color": "rgba(0,0,0,0)"}, {"offset": 0.3, "color": "rgba(0,0,0,0)"}, {"offset": 0.3, "color": "#555"}, {"offset": 0.33, "color": "#555"}, {"offset": 0.33, "color": "rgba(0,0,0,0)"}, {"offset": 0.4, "color": "rgba(0,0,0,0)"}, {"offset": 0.4, "color": "#555"}, {"offset": 0.43, "color": "#555"}, {"offset": 0.43, "color": "rgba(0,0,0,0)"}, {"offset": 0.5, "color": "rgba(0,0,0,0)"}, {"offset": 0.5, "color": "#555"}, {"offset": 0.53, "color": "#555"}, {"offset": 0.53, "color": "rgba(0,0,0,0)"}, {"offset": 0.6, "color": "rgba(0,0,0,0)"}, {"offset": 0.6, "color": "#555"}, {"offset": 0.63, "color": "#555"}, {"offset": 0.63, "color": "rgba(0,0,0,0)"}, {"offset": 0.7, "color": "rgba(0,0,0,0)"}, {"offset": 0.7, "color": "#555"}, {"offset": 0.73, "color": "#555"}, {"offset": 0.73, "color": "rgba(0,0,0,0)"}, {"offset": 0.8, "color": "rgba(0,0,0,0)"}, {"offset": 0.8, "color": "#555"}, {"offset": 0.83, "color": "#555"}, {"offset": 0.83, "color": "rgba(0,0,0,0)"}, {"offset": 0.9, "color": "rgba(0,0,0,0)"}, {"offset": 0.9, "color": "#555"}, {"offset": 0.93, "color": "#555"}, {"offset": 0.93, "color": "rgba(0,0,0,0)"}, {"offset": 1, "color": "rgba(0,0,0,0)"}]}},
              "encoding": {
                "x": {"field": "lo", "type": "quantitative", "scale": {"domain": [0, 2], "nice": false, "zero": false},
                  "axis": {"orient": "bottom", "values": [0, 0.1, 0.2, 0.3, 0.4, 0.5, 0.6, 0.7, 0.8, 0.9, 1, 1.1, 1.2, 1.3, 1.4, 1.5, 1.6, 1.7, 1.8, 1.9, 2],
                    "labelExpr": "abs(datum.value*2 - round(datum.value*2)) < 1e-6 ? format(datum.value, '~g') : ''", "labelFontSize": 9.5, "labelPadding": 5,
                    "tickSize": {"condition": {"test": "abs(datum.value*2 - round(datum.value*2)) < 1e-6", "value": -4}, "value": -2},
                    "title": "Δφbb (radians)", "titleFontSize": 10, "titleAnchor": "end", "titlePadding": 1}},
                "x2": {"field": "hi"},
                "y": {"field": "rb_lo", "type": "quantitative", "scale": {"domain": [-0.5, 0.5], "nice": false},
                  "axis": {"orient": "left", "values": [-0.5, -0.4, -0.3, -0.2, -0.1, 0, 0.1, 0.2, 0.3, 0.4, 0.5],
                    "labelExpr": "abs(datum.value*5 - round(datum.value*5)) < 1e-6 && abs(datum.value) < 0.45 ? replace(format(datum.value, '.1~f'), '−', '-') : ''",
                    "labelFontSize": 6.5, "labelPadding": 6,
                    "tickSize": {"condition": {"test": "abs(datum.value*5 - round(datum.value*5)) < 1e-6", "value": -4}, "value": -2},
                    "grid": true, "gridDash": [1, 1.5], "gridColor": "#777777", "gridWidth": 0.7,
                    "gridOpacity": {"condition": {"test": "abs(datum.value*5 - round(datum.value*5)) < 1e-6 && abs(datum.value) > 0.1 && abs(datum.value) < 0.45", "value": 1}, "value": 0},
                    "title": "Data / MC - 1", "titleFontSize": 8.5, "titlePadding": 4}},
                "y2": {"field": "rb_hi"}
              }
            },
            {
              "mark": {"type": "rule", "color": "black", "strokeWidth": 0.8},
              "encoding": {
                "x": {"field": "lo", "type": "quantitative",
                  "axis": {"orient": "top", "values": [0, 0.1, 0.2, 0.3, 0.4, 0.5, 0.6, 0.7, 0.8, 0.9, 1, 1.1, 1.2, 1.3, 1.4, 1.5, 1.6, 1.7, 1.8, 1.9, 2], "labels": false, "title": null,
                    "tickSize": {"condition": {"test": "abs(datum.value*2 - round(datum.value*2)) < 1e-6", "value": -4}, "value": -2}}},
                "x2": {"field": "hi"},
                "y": {"field": "ratio", "type": "quantitative",
                  "axis": {"orient": "right", "values": [-0.5, -0.4, -0.3, -0.2, -0.1, 0, 0.1, 0.2, 0.3, 0.4, 0.5], "labels": false, "title": null,
                    "tickSize": {"condition": {"test": "abs(datum.value*5 - round(datum.value*5)) < 1e-6", "value": -4}, "value": -2}}}
              }
            },
            {
              "mark": {"type": "errorbar", "color": "black", "thickness": 0.8},
              "encoding": {"x": {"field": "mid", "type": "quantitative", "axis": null}, "y": {"field": "ratio", "type": "quantitative", "axis": null}, "yError": {"field": "rerr"}}
            },
            {
              "mark": {"type": "point", "filled": true, "color": "black", "size": 12, "opacity": 1},
              "encoding": {"x": {"field": "mid", "type": "quantitative", "axis": null}, "y": {"field": "ratio", "type": "quantitative", "axis": null}}
            }
          ]
        }
      ]
    }
  ]
}
